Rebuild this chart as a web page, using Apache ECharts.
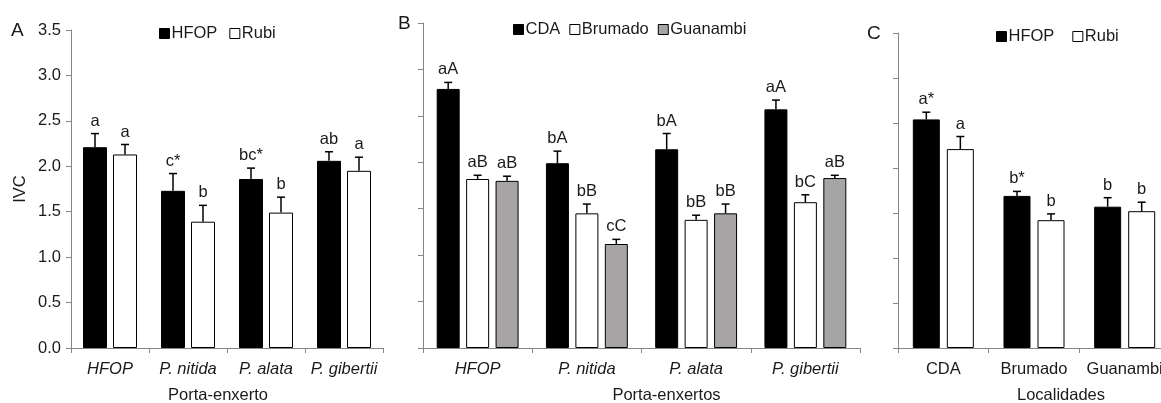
<!DOCTYPE html>
<html lang="pt">
<head>
<meta charset="UTF-8">
<title>IVC</title>
<script src="https://cdn.jsdelivr.net/npm/echarts@6/dist/echarts.min.js"></script>
<style>
  html, body { margin: 0; padding: 0; background: #fff; }
  #main { width: 1161px; height: 403px; }
</style>
</head>
<body>
<div id="main"></div>
<script>
// ---- painel A: porta-enxerto x cultivar
var catsA = ['HFOP', 'P. nitida', 'P. alata', 'P. gibertii'];
var aHfop = [2.21, 1.73, 1.86, 2.06];
var aHfopErr = [0.15, 0.19, 0.12, 0.10];
var aHfopLet = ['a', 'c*', 'bc*', 'ab'];
var aRubi = [2.13, 1.39, 1.49, 1.95];
var aRubiErr = [0.11, 0.18, 0.17, 0.15];
var aRubiLet = ['a', 'b', 'b', 'a'];

// ---- painel B: porta-enxertos x localidade
var catsB = ['HFOP', 'P. nitida', 'P. alata', 'P. gibertii'];
var bCda = [2.79, 1.99, 2.14, 2.57];
var bCdaErr = [0.07, 0.13, 0.17, 0.10];
var bCdaLet = ['aA', 'bA', 'bA', 'aA'];
var bBrum = [1.82, 1.45, 1.38, 1.57];
var bBrumErr = [0.04, 0.10, 0.05, 0.08];
var bBrumLet = ['aB', 'bB', 'bB', 'bC'];
var bGuan = [1.80, 1.12, 1.45, 1.83];
var bGuanErr = [0.05, 0.05, 0.10, 0.03];
var bGuanLet = ['aB', 'cC', 'bB', 'aB'];

// ---- painel C: localidades x cultivar
var catsC = ['CDA', 'Brumado', 'Guanambi'];
var cHfop = [2.54, 1.69, 1.57];
var cHfopErr = [0.08, 0.05, 0.10];
var cHfopLet = ['a*', 'b*', 'b'];
var cRubi = [2.21, 1.42, 1.52];
var cRubiErr = [0.14, 0.07, 0.10];
var cRubiLet = ['a', 'b', 'b'];

var yTicks = { min: 0, max: 3.5, interval: 0.5 };

var FONT = 'Liberation Sans';
var FS = 16.5;
var TXT = '#1a1a1a';
var AX = '#868686';

var myChart = echarts.init(document.getElementById('main'));

function xAx(idx, cats, italic, name, pad) {
    return {
        type: 'category', gridIndex: idx, data: cats,
        axisLine: { lineStyle: { color: AX, width: 1 } },
        axisTick: { show: true, length: 5, lineStyle: { color: AX } },
        axisLabel: { color: TXT, fontFamily: FONT, fontSize: FS, fontStyle: italic ? 'italic' : 'normal',
            margin: 13, interval: 0, hideOverlap: false },
        name: name, nameLocation: 'middle', nameGap: 39,
        nameTextStyle: { color: TXT, fontFamily: FONT, fontSize: FS, padding: pad }
    };
}

function yAx(idx, showLabels) {
    return {
        type: 'value', gridIndex: idx, min: yTicks.min, max: yTicks.max, interval: yTicks.interval,
        splitLine: { show: false },
        axisLine: { show: true, lineStyle: { color: AX, width: 1 } },
        axisTick: { show: true, length: 5, lineStyle: { color: AX } },
        axisLabel: { show: showLabels, color: TXT, fontFamily: FONT, fontSize: FS, margin: 10,
            formatter: function (v) { return v.toFixed(1); } },
        name: showLabels ? 'IVC' : '', nameLocation: 'middle', nameGap: 42,
        nameTextStyle: { color: TXT, fontFamily: FONT, fontSize: FS }
    };
}

function barS(name, idx, vals, color, bw, gap) {
    return {
        name: name, type: 'bar', xAxisIndex: idx, yAxisIndex: idx, data: vals,
        barWidth: bw, barGap: gap,
        itemStyle: { color: color, borderColor: '#000', borderWidth: 1 },
        z: 2
    };
}

// barras de erro (apenas para cima) + letras
function errS(idx, groups, bw, gapRatio) {
    var data = [], lets = [];
    var n = groups.length;
    groups.forEach(function (g, s) {
        g.vals.forEach(function (v, i) {
            data.push([i, v + g.errs[i], v, s]);
            lets.push(g.lets[i]);
        });
    });
    var step = bw * (1 + gapRatio);
    return {
        type: 'custom', xAxisIndex: idx, yAxisIndex: idx, data: data, z: 5,
        encode: { x: 0, y: 1 },
        renderItem: function (params, api) {
            var i = api.value(0), top = api.value(1), mean = api.value(2), s = api.value(3);
            var off = (s - (n - 1) / 2) * step;
            var p1 = api.coord([i, mean]);
            var p2 = api.coord([i, top]);
            var x = p1[0] + off;
            var ls = { stroke: '#000', lineWidth: 1.5 };
            return {
                type: 'group',
                children: [
                    { type: 'line', shape: { x1: x, y1: p1[1], x2: x, y2: p2[1] }, style: ls },
                    { type: 'line', shape: { x1: x - 4, y1: p2[1], x2: x + 4, y2: p2[1] }, style: ls },
                    { type: 'text', style: { text: lets[params.dataIndex], x: x, y: p2[1] - 4,
                        align: 'center', verticalAlign: 'bottom',
                        font: FS + 'px "' + FONT + '"', fill: TXT } }
                ]
            };
        }
    };
}

var legendBase = {
    icon: 'rect', itemWidth: 10, itemHeight: 10, orient: 'horizontal', padding: 0,
    itemStyle: { borderColor: '#000', borderWidth: 1 },
    textStyle: { color: TXT, fontFamily: FONT, fontSize: FS, padding: [0, 0, 0, -3] },
    selectedMode: false
};

var option = {
    animation: false,
    title: [
        { text: 'A', left: 11, top: 21, padding: 0, textStyle: { color: TXT, fontFamily: FONT, fontSize: 19, fontWeight: 'normal' } },
        { text: 'B', left: 398, top: 14, padding: 0, textStyle: { color: TXT, fontFamily: FONT, fontSize: 19, fontWeight: 'normal' } },
        { text: 'C', left: 867, top: 24, padding: 0, textStyle: { color: TXT, fontFamily: FONT, fontSize: 19, fontWeight: 'normal' } }
    ],
    legend: [
        Object.assign({}, legendBase, { data: ['HFOP', 'Rubi'], left: 159, top: 25, itemGap: 12 }),
        Object.assign({}, legendBase, { data: ['CDA', 'Brumado', 'Guanambi'], left: 513, top: 21, itemGap: 9 }),
        Object.assign({}, legendBase, { data: ['HFOP', 'Rubi'], left: 996, top: 28, itemGap: 18 })
    ],
    grid: [
        { left: 71, top: 30, width: 312, bottom: 55, outerBoundsMode: 'none', containLabel: false },
        { left: 423, top: 23, width: 437, bottom: 55, outerBoundsMode: 'none', containLabel: false },
        { left: 898, top: 33, width: 272, bottom: 55, outerBoundsMode: 'none', containLabel: false }
    ],
    xAxis: [
        xAx(0, catsA, true, 'Porta-enxerto', [0, 18, 0, 0]),
        xAx(1, catsB, true, 'Porta-enxertos', [0, 0, 0, 50]),
        xAx(2, catsC, false, 'Localidades', [0, 0, 0, 54])
    ],
    yAxis: [yAx(0, true), yAx(1, false), yAx(2, false)],
    series: [
        barS('HFOP', 0, aHfop, '#000', 24, '25%'),
        barS('Rubi', 0, aRubi, '#fff', 24, '25%'),
        errS(0, [{ vals: aHfop, errs: aHfopErr, lets: aHfopLet }, { vals: aRubi, errs: aRubiErr, lets: aRubiLet }], 24, 0.25),

        barS('CDA', 1, bCda, '#000', 23, '28%'),
        barS('Brumado', 1, bBrum, '#fff', 23, '28%'),
        barS('Guanambi', 1, bGuan, '#a6a4a4', 23, '28%'),
        errS(1, [{ vals: bCda, errs: bCdaErr, lets: bCdaLet }, { vals: bBrum, errs: bBrumErr, lets: bBrumLet },
                 { vals: bGuan, errs: bGuanErr, lets: bGuanLet }], 23, 0.28),

        barS('HFOP', 2, cHfop, '#000', 27, '26%'),
        barS('Rubi', 2, cRubi, '#fff', 27, '26%'),
        errS(2, [{ vals: cHfop, errs: cHfopErr, lets: cHfopLet }, { vals: cRubi, errs: cRubiErr, lets: cRubiLet }], 27, 0.26)
    ]
};

myChart.setOption(option);
</script>
</body>
</html>
